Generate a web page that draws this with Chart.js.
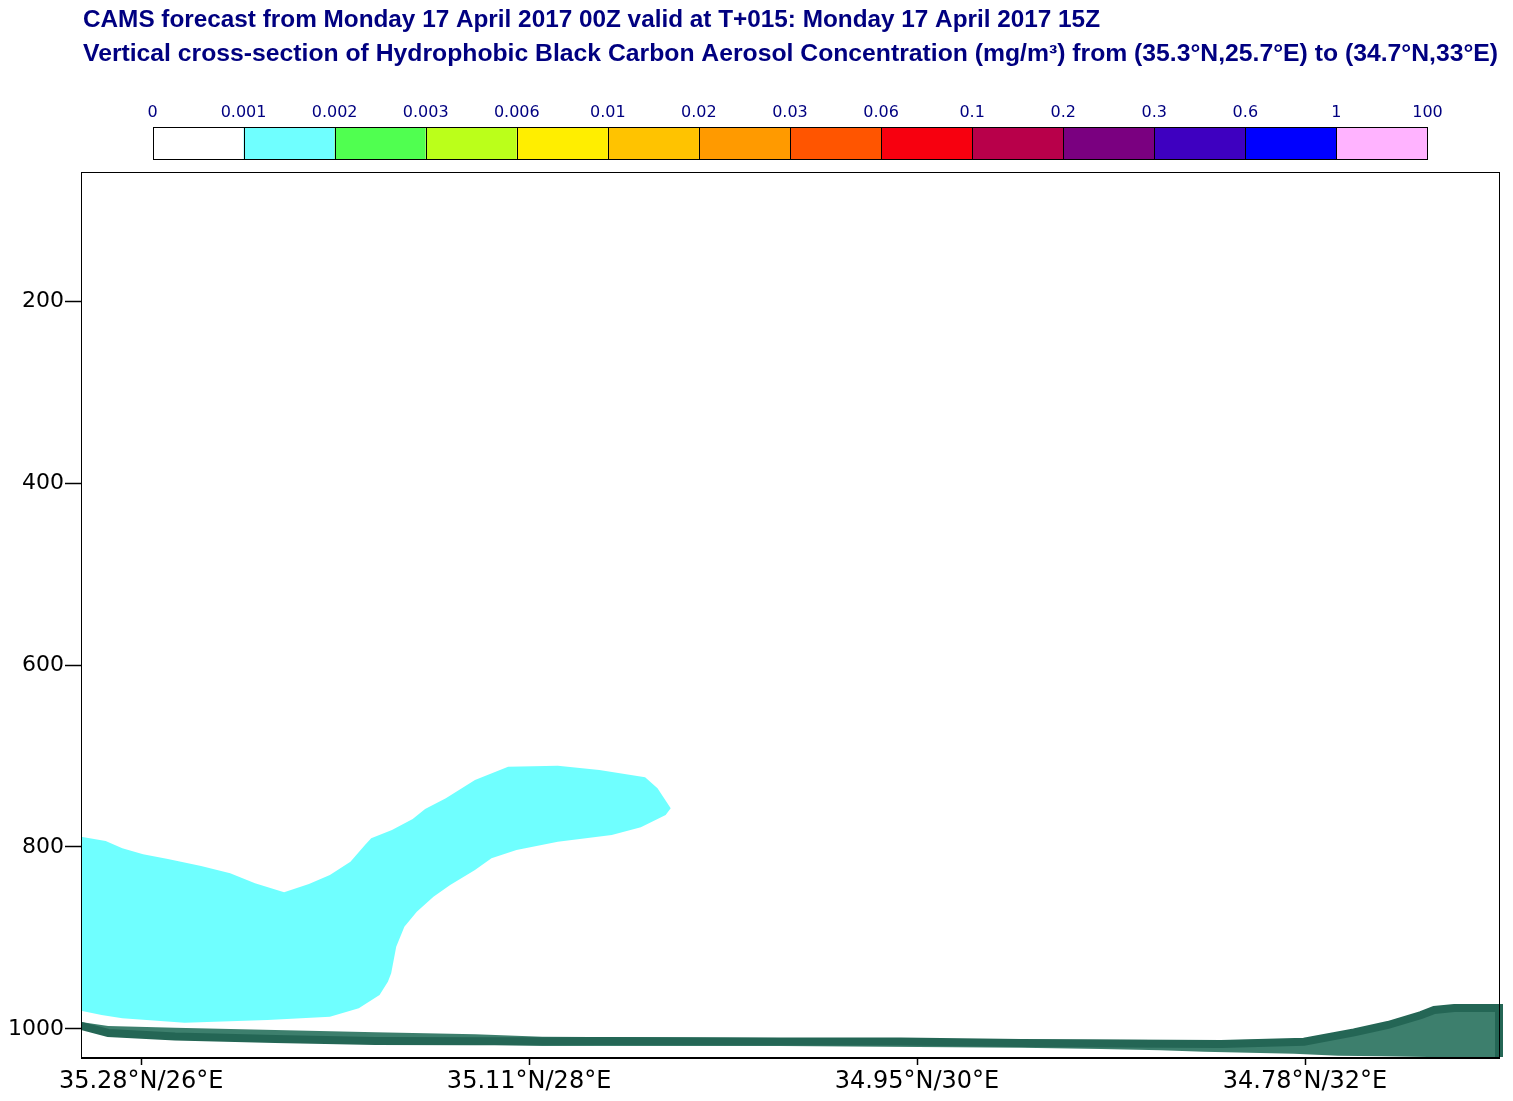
<!DOCTYPE html>
<html><head><meta charset="utf-8">
<script src="https://cdn.jsdelivr.net/npm/chart.js@4.4.0/dist/chart.umd.min.js"></script>
<style>html,body{margin:0;padding:0;background:#fff;overflow:hidden}canvas{display:block}</style>
</head><body><canvas id="c" width="1513" height="1101"></canvas>
<script>
const titleLine1 = "CAMS forecast from Monday 17 April 2017 00Z valid at T+015: Monday 17 April 2017 15Z";
const titleLine2 = "Vertical cross-section of Hydrophobic Black Carbon Aerosol Concentration (mg/m³) from (35.3°N,25.7°E) to (34.7°N,33°E)";

const levelLabels = ["0","0.001","0.002","0.003","0.006","0.01","0.02","0.03","0.06","0.1","0.2","0.3","0.6","1","100"];
const levelColors = ["#ffffff","#6fffff","#50ff50","#bbff1a","#ffee00","#ffc300","#ff9a00","#ff5500","#f7000f","#b8004a","#7a0080","#3e00c0","#0000ff","#ffb3ff"];

const xTickValues = [26, 28, 30, 32];
const xTickLabels = ["35.28°N/26°E", "35.11°N/28°E", "34.95°N/30°E", "34.78°N/32°E"];
const yTickValues = [200, 400, 600, 800, 1000];
const lonRange = [25.69, 33.0];
const pressureRange = [58.2, 1030.8];

// 0.001-0.002 mg/m3 plume outline (lon, hPa)
const plumeLon = [25.69,25.817,25.903,26.010,26.138,26.309,26.459,26.587,26.737,26.865,26.973,27.079,27.154,27.186,27.293,27.400,27.464,27.571,27.721,27.892,28.148,28.362,28.598,28.662,28.730,
  28.704,28.576,28.426,28.148,27.935,27.806,27.721,27.593,27.507,27.421,27.357,27.315,27.289,27.272,27.229,27.122,26.973,26.652,26.224,25.903,25.796,25.69];
const plumePressure = [788.7,793.4,801.4,808.0,813.2,820.9,828.9,839.9,849.8,840.7,830.8,816.2,797.8,790.4,781.3,769.2,758.2,746.5,726.4,711.8,710.7,715.4,723.4,735.5,757.5,
  764.8,778.4,786.8,794.2,803.3,812.4,825.3,841.8,854.6,871.1,887.6,909.6,938.8,948.0,962.6,977.3,986.5,990.1,993.1,988.2,984.6,979.9];

// orography shading outline (lon, hPa)
const groundLon = [25.69,25.83,26.175,26.691,27.207,27.722,28.068,29.297,30.535,31.567,31.995,32.253,32.428,32.599,32.769,33.0,
  33.0,32.635,32.392,32.171,31.943,31.479,31.257,30.948,30.535,29.297,28.068,27.207,26.691,26.175,25.83,25.69];
const groundPressure = [992.3,996.7,998.6,1001.1,1003.6,1005.8,1008.5,1010.0,1011.5,1012.5,1011.0,1001.0,993.0,982.0,976.0,976.0,
  1030.8,1030.8,1030.0,1029.3,1027.1,1025.0,1023.4,1022.0,1020.5,1018.7,1018.7,1015.0,1012.5,1009.5,1005.0,998.0];

// surface pressure line (lon, hPa)
const surfaceLon = [25.69,25.83,26.175,26.691,27.207,27.722,28.068,28.368,29.297,29.916,30.535,31.567,31.995,32.253,32.428,32.599,32.666,32.769,32.975,33.0,33.0];
const surfacePressure = [996.7,1004.4,1008.2,1011.0,1013.2,1013.5,1013.4,1013.2,1013.7,1013.7,1015.4,1016.5,1014.0,1003.8,995.6,984.6,979.1,976.9,976.9,976.9,1030.8];

const toPts = (xs, ys) => xs.map((x, i) => ({x, y: ys[i]}));

const bgPlugin = {
  id: 'bg',
  beforeDraw(chart) {
    const ctx = chart.ctx;
    ctx.save(); ctx.fillStyle = '#fff'; ctx.fillRect(0, 0, chart.width, chart.height); ctx.restore();
  }
};

const decorPlugin = {
  id: 'decor',
  afterDraw(chart) {
    const ctx = chart.ctx;
    const a = chart.chartArea;
    ctx.save();
    // frame
    ctx.fillStyle = '#000';
    ctx.fillRect(a.left, a.top, a.right - a.left + 1, 1);
    ctx.fillRect(a.left, a.top, 1, a.bottom - a.top + 1);
    ctx.fillRect(a.right, a.top, 1, a.bottom - a.top + 1);
    ctx.fillRect(a.left, a.bottom, a.right - a.left + 1, 2);
    // titles
    ctx.fillStyle = '#000080';
    ctx.font = 'bold 23px "Liberation Sans", Arial, sans-serif';
    ctx.textBaseline = 'alphabetic';
    ctx.textAlign = 'left';
    const drawFit = (txt, x, y, w) => {
      const m = ctx.measureText(txt).width;
      ctx.save(); ctx.translate(x, y); ctx.scale(w / m, 1); ctx.fillText(txt, 0, 0); ctx.restore();
    };
    drawFit(titleLine1, 83, 27, 1017);
    drawFit(titleLine2, 83, 61, 1415);
    // colour bar
    const x0 = 152.5, bw = 91.07, top = 127, h = 32;
    for (let i = 0; i < levelColors.length; i++) {
      ctx.fillStyle = levelColors[i];
      ctx.fillRect(x0 + i * bw, top, bw, h);
    }
    ctx.strokeStyle = '#000'; ctx.lineWidth = 1;
    for (let i = 0; i < levelColors.length; i++) {
      ctx.strokeRect(Math.round(x0 + i * bw) + 0.5, top + 0.5, Math.round(bw), h);
    }
    ctx.fillStyle = '#000080';
    ctx.font = '16px "DejaVu Sans", sans-serif';
    ctx.textAlign = 'center';
    for (let i = 0; i < levelLabels.length; i++) {
      ctx.fillText(levelLabels[i], x0 + i * bw, 117);
    }
    ctx.restore();
  }
};

new Chart(document.getElementById('c'), {
  type: 'scatter',
  data: {
    datasets: [
      { label: 'surface', data: toPts(surfaceLon, surfacePressure), showLine: true, fill: false,
        borderColor: '#246655', borderWidth: 8, pointRadius: 0, order: 0,
        clip: {left: 0, top: 0, right: 4, bottom: 0}, borderJoinStyle: 'miter', borderCapStyle: 'butt' },
      { label: 'ground', data: toPts(groundLon, groundPressure), showLine: true, fill: 'shape',
        backgroundColor: '#3d7f6d', borderColor: '#3d7f6d', borderWidth: 0, pointRadius: 0, order: 1 },
      { label: '0.001-0.002', data: toPts(plumeLon, plumePressure), showLine: true, fill: 'shape',
        backgroundColor: '#6fffff', borderColor: '#6fffff', borderWidth: 0, pointRadius: 0, order: 2 }
    ]
  },
  options: {
    responsive: false, animation: false, devicePixelRatio: 1,
    layout: { padding: { top: 172, right: 14, left: 0, bottom: 0 } },
    plugins: { legend: { display: false }, tooltip: { enabled: false }, title: { display: false } },
    scales: {
      x: {
        type: 'linear', min: lonRange[0], max: lonRange[1],
        afterBuildTicks: (s) => { s.ticks = xTickValues.map(v => ({value: v})); },
        afterFit: (s) => { s.height = 44; },
        ticks: { callback: (v) => { const i = xTickValues.indexOf(v); return i >= 0 ? xTickLabels[i] : ''; },
                 font: { family: '"DejaVu Sans"', size: 24 }, color: '#000', padding: 2, maxRotation: 0, autoSkip: false },
        grid: { display: true, drawOnChartArea: false, drawTicks: true, tickLength: 8, tickColor: '#000', tickWidth: 1.5 },
        border: { display: false }
      },
      y: {
        type: 'linear', reverse: true, min: pressureRange[0], max: pressureRange[1],
        afterBuildTicks: (s) => { s.ticks = yTickValues.map(v => ({value: v})); },
        afterFit: (s) => { s.width = 81; },
        ticks: { callback: (v) => String(v), font: { family: '"DejaVu Sans"', size: 22 }, color: '#000', padding: 1, autoSkip: false },
        grid: { display: true, drawOnChartArea: false, drawTicks: true, tickLength: 16, tickColor: '#000', tickWidth: 1.5 },
        border: { display: false }
      }
    }
  },
  plugins: [bgPlugin, decorPlugin]
});
</script>
</body></html>
